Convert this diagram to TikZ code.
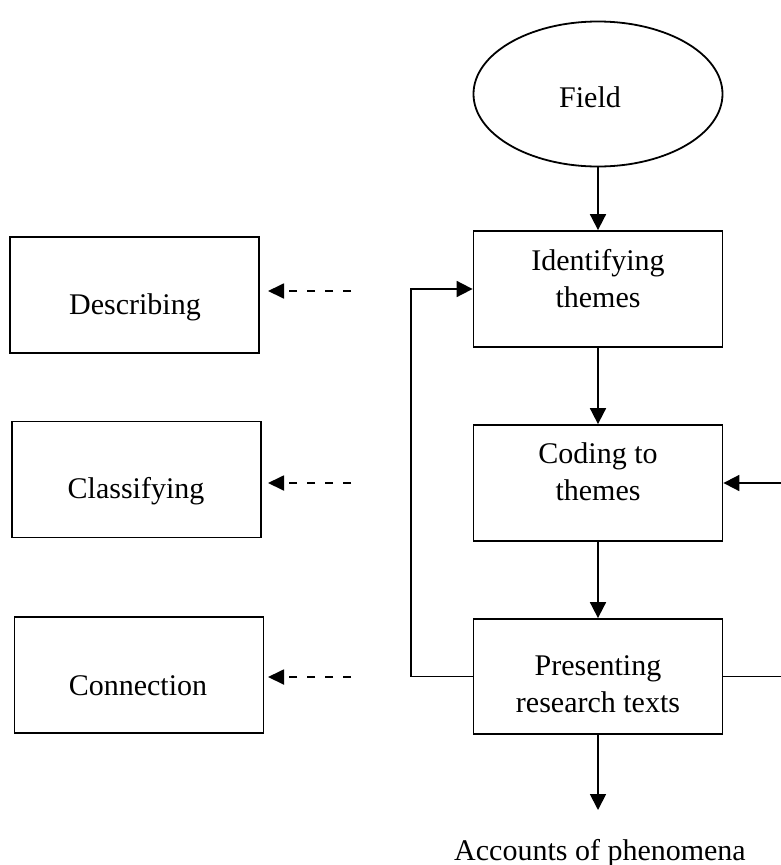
\documentclass[tikz,border=0pt]{standalone}
\usepackage{fontspec}
\setmainfont{Liberation Serif}
\usetikzlibrary{shapes.geometric,arrows.meta}
\begin{document}
\begin{tikzpicture}[x=1pt,y=-1pt,
  box/.style={draw, line width=1.8pt, minimum width=249pt, minimum height=116pt, inner sep=0pt},
  lbl/.style={font=\fontsize{30}{37}\selectfont, align=center, inner sep=0pt},
  arr/.style={line width=1.8pt, -{Triangle[width=16pt,length=16pt]}},
  dsh/.style={line width=1.8pt, dash pattern=on 8pt off 10pt, -{Triangle[width=15pt,length=16pt]}}]
\path[use as bounding box, fill=white] (0,0) rectangle (780,865);

% main column
\node[draw, ellipse, line width=1.8pt, minimum width=249pt, minimum height=145pt, inner sep=0pt] (field) at (598,94) {};
\node[lbl, anchor=base] (fieldT) at (590,107) {Field};
\node[box] (id)   at (598,289)   {};
\node[box] (cod)  at (598,483)   {};
\node[box, minimum height=115pt] (pres) at (598,676.5) {};
\node[lbl, anchor=base] (idT)   at (598,307) {Identifying\\themes};
\node[lbl, anchor=base] (codT)  at (598,500) {Coding to\\themes};
\node[lbl, anchor=base] (presT) at (598,712) {Presenting\\research texts};

% left column
\node[box] (desc) at (134.5,295)   {};
\node[box] (cls)  at (136.5,479.5) {};
\node[box] (con)  at (139,675)     {};
\node[lbl, anchor=base] (descT) at (135,314) {Describing};
\node[lbl, anchor=base] (clsT)  at (136,498) {Classifying};
\node[lbl, anchor=base] (conT)  at (138,695) {Connection};

% bottom text
\node[lbl, anchor=base] (acc) at (600,860) {Accounts of phenomena};
\coordinate (accEnd) at (598,810);

% main arrows
\draw[arr] (field.south) -- (id.north);
\draw[arr] (id.south) -- (cod.north);
\draw[arr] (cod.south) -- (pres.north);
\draw[arr] (pres.south) -- (accEnd);

% feedback loops
\draw[arr] (pres.west) -- ++(-62,0) |- (id.west);
\coordinate (rloop) at (800,676.5);
\draw[arr] (pres.east) -- (rloop) |- (cod.east);

% dashed arrows
\coordinate (d1s) at (351,291); \coordinate (d1e) at (268,291);
\coordinate (d2s) at (351,483); \coordinate (d2e) at (268,483);
\coordinate (d3s) at (351,677); \coordinate (d3e) at (268,677);
\draw[dsh] (d1s) -- (d1e);
\draw[dsh] (d2s) -- (d2e);
\draw[dsh] (d3s) -- (d3e);
\end{tikzpicture}
\end{document}
